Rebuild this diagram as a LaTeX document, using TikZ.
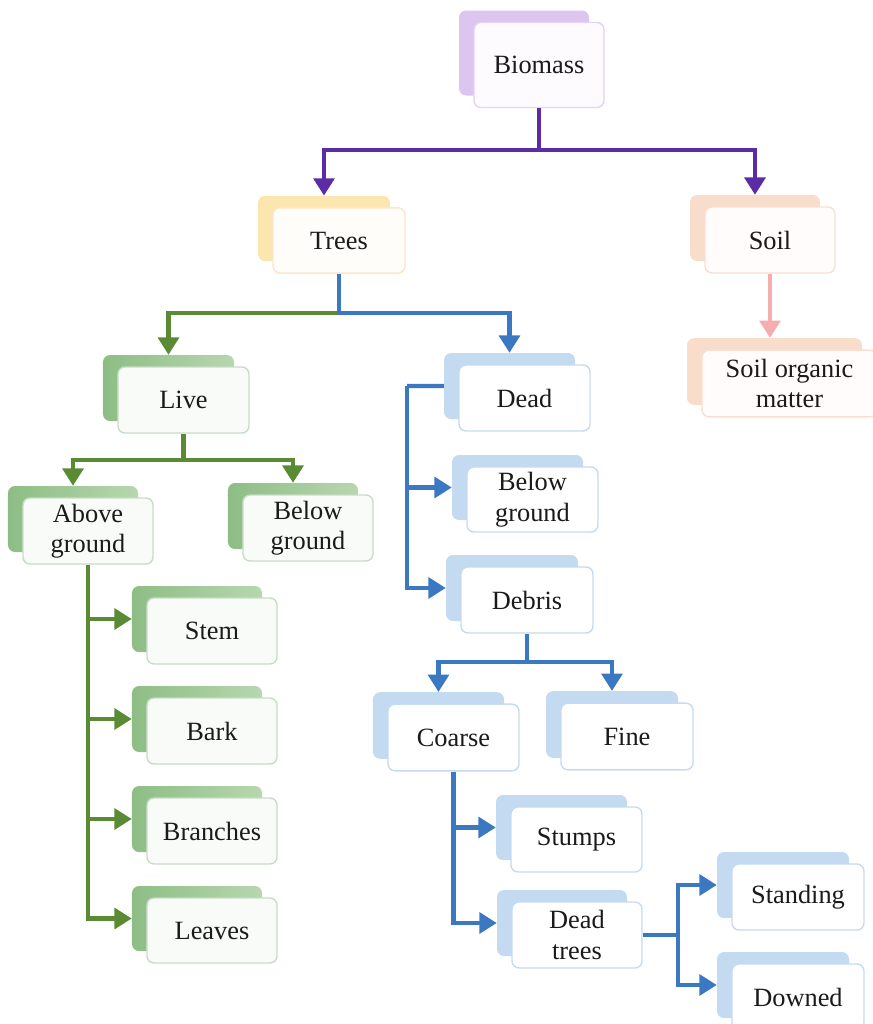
\documentclass[tikz,border=0pt]{standalone}
\usepackage{fontspec}
\setmainfont{Liberation Serif}
\usetikzlibrary{arrows.meta}

\definecolor{purline}{HTML}{5B2CA3}
\definecolor{grnline}{HTML}{5A8A34}
\definecolor{bluline}{HTML}{3A78C2}
\definecolor{pnkline}{HTML}{F6ADAD}
\definecolor{txt}{HTML}{1A1A1A}

\definecolor{HTMLpurback}{HTML}{DCC6F0}
\definecolor{HTMLpurfr}{HTML}{E2D4F2}
\definecolor{HTMLpurfill}{HTML}{FEFBFF}
\definecolor{HTMLyelback}{HTML}{FCE6B0}
\definecolor{HTMLyelfr}{HTML}{FBE6C6}
\definecolor{HTMLyelfill}{HTML}{FFFDFA}
\definecolor{HTMLpchback}{HTML}{F9DDCB}
\definecolor{HTMLpchfr}{HTML}{F8DFD0}
\definecolor{HTMLpchfill}{HTML}{FFFCFB}
\definecolor{HTMLgrnbackL}{HTML}{8DBD85}
\definecolor{HTMLgrnbackR}{HTML}{B7D7AE}
\definecolor{HTMLgrnfr}{HTML}{C8DDC5}
\definecolor{HTMLgrnfill}{HTML}{F8FBF8}
\definecolor{HTMLbluback}{HTML}{C4DAF0}
\definecolor{HTMLblufr}{HTML}{C6DBF1}

\tikzset{
  box/.style={rounded corners=6pt, align=center, inner sep=0pt,
    font=\fontsize{22.5}{26}\selectfont, text=txt},
  bk pur/.style={fill=HTMLpurback},
  bk yel/.style={fill=HTMLyelback},
  bk pch/.style={fill=HTMLpchback},
  bk grn/.style={left color=HTMLgrnbackL, right color=HTMLgrnbackR},
  bk blu/.style={fill=HTMLbluback},
  fr pur/.style={draw=HTMLpurfr, fill=HTMLpurfill},
  fr yel/.style={draw=HTMLyelfr, fill=HTMLyelfill},
  fr pch/.style={draw=HTMLpchfr, fill=HTMLpchfill},
  fr grn/.style={draw=HTMLgrnfr, fill=HTMLgrnfill},
  fr blu/.style={draw=HTMLblufr, fill=white},
  conn/.style={line width=3.5pt},
  tip/.style={conn, -{Triangle[width=0.62cm,length=0.52cm]}},
}

% #1 name, #2 x, #3 y, #4 text, #5 colour scheme, #6 width, #7 height
\newcommand\layerbox[7]{%
  \node[box, bk #5, minimum width=#6, minimum height=#7,
        xshift=-0.45cm, yshift=0.36cm] (#1-b) at (#2,#3) {};
  \node[box, fr #5, line width=1.2pt, minimum width=#6, minimum height=#7]
        (#1) at (#2,#3) {#4};
}

\begin{document}
\begin{tikzpicture}[x=0.03cm, y=-0.03cm]
\useasboundingbox (0,0) rectangle (873,1024);

% boxes
\layerbox{bio}{539}{65}{Biomass}{pur}{3.9cm}{2.55cm}
\layerbox{trees}{339}{240.5}{Trees}{yel}{3.96cm}{1.96cm}
\layerbox{soil}{770}{240}{Soil}{pch}{3.9cm}{1.98cm}
\layerbox{som}{789.5}{383.5}{Soil organic\\matter}{pch}{5.25cm}{2cm}
\layerbox{live}{183.5}{400}{Live}{grn}{3.93cm}{1.98cm}
\layerbox{dead}{524.5}{398}{Dead}{blu}{3.93cm}{1.98cm}
\layerbox{above}{88}{531}{Above\\ground}{grn}{3.9cm}{1.98cm}
\layerbox{belowl}{308}{528}{Below\\ground}{grn}{3.9cm}{1.98cm}
\layerbox{belowd}{532.5}{499.5}{Below\\ground}{blu}{3.93cm}{1.95cm}
\layerbox{debris}{527}{600}{Debris}{blu}{3.96cm}{1.98cm}
\layerbox{stem}{212}{631}{Stem}{grn}{3.9cm}{1.98cm}
\layerbox{bark}{212}{731}{Bark}{grn}{3.9cm}{1.98cm}
\layerbox{branches}{212}{831}{Branches}{grn}{3.9cm}{1.98cm}
\layerbox{leaves}{212}{930.5}{Leaves}{grn}{3.9cm}{1.95cm}
\layerbox{coarse}{453.5}{737.5}{Coarse}{blu}{3.93cm}{2cm}
\layerbox{fine}{627}{736.5}{Fine}{blu}{3.96cm}{2cm}
\layerbox{stumps}{576.5}{839.5}{Stumps}{blu}{3.93cm}{1.95cm}
\layerbox{deadtrees}{577}{935}{Dead\\trees}{blu}{3.9cm}{1.98cm}
\layerbox{standing}{798}{897}{Standing}{blu}{3.96cm}{1.98cm}
\layerbox{downed}{798}{997}{Downed}{blu}{3.96cm}{1.98cm}

% junction points
\coordinate (bj) at (539,150);
\coordinate (tj) at (339,313);
\coordinate (lj) at (183.5,460);
\coordinate (dx) at (407,386);
\coordinate (dbj) at (527,662);
\coordinate (dtj) at (678,935);

% biomass
\draw[conn, purline] (bio.south) -- (bj);
\draw[tip, purline] (bj) -| (trees-b.north);
\draw[tip, purline] (bj) -| (soil-b.north);

% soil
\draw[tip, pnkline] (soil.south) -- (soil.south |- som-b.north);

% trees
\draw[tip, grnline] (tj) -| (live-b.north);
\draw[tip, bluline] (trees.south) -- (tj) -| (dead-b.north);

% live
\draw[conn, grnline] (live.south) -- (lj);
\draw[tip, grnline] (lj) -| (above-b.north);
\draw[tip, grnline] (lj) -| (belowl-b.north);

% above ground
\draw[tip, grnline] (above.south) |- (stem-b.west);
\draw[tip, grnline] (above.south) |- (bark-b.west);
\draw[tip, grnline] (above.south) |- (branches-b.west);
\draw[tip, grnline] (above.south) |- (leaves-b.west);

% dead
\draw[conn, bluline] (dead-b.west) -- (dx);
\draw[tip, bluline] (dx) |- (belowd-b.west);
\draw[tip, bluline] (dx) |- (debris-b.west);

% debris
\draw[conn, bluline] (debris.south) -- (dbj);
\draw[tip, bluline] (dbj) -| (coarse-b.north);
\draw[tip, bluline] (dbj) -| (fine-b.north);

% coarse
\draw[tip, bluline] (coarse.south) |- (stumps-b.west);
\draw[tip, bluline] (coarse.south) |- (deadtrees-b.west);

% dead trees
\draw[conn, bluline] (deadtrees.east) -- (dtj);
\draw[tip, bluline] (dtj) |- (standing-b.west);
\draw[tip, bluline] (dtj) |- (downed-b.west);
\end{tikzpicture}
\end{document}
